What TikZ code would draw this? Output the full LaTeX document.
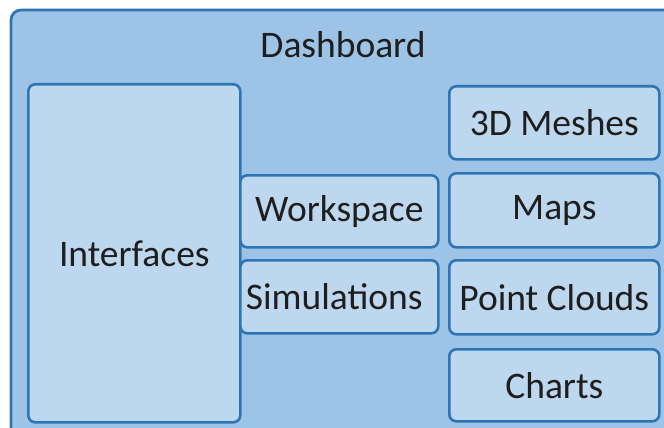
\documentclass[tikz,border=0pt]{standalone}
\usepackage{fontspec}
\setmainfont{Carlito}
\definecolor{outerfill}{HTML}{9DC3E6}
\definecolor{innerfill}{HTML}{BDD7EE}
\definecolor{edgeblue}{HTML}{2E75B6}
\definecolor{txt}{HTML}{1E1E1E}
\begin{document}
\begin{tikzpicture}[x=1pt,y=-1pt,
  lbl/.style={font=\fontsize{37.5}{42}\selectfont, text=txt},
  boxnode/.style={draw=edgeblue, line width=2.6pt, fill=innerfill, rounded corners=7pt,
    inner sep=0pt, anchor=north west, lbl}]
\useasboundingbox (0,0) rectangle (664,428);
\clip (0,0) rectangle (664,428);
\draw[draw=edgeblue, line width=2.8pt, fill=outerfill, rounded corners=10pt] (11,10) rectangle (700,460);
\node[lbl] (dash) at (343,45) {Dashboard};
\node[boxnode, minimum width=212pt, minimum height=338pt] (interfaces) at (27,83) {Interfaces};
\node[boxnode, minimum width=198pt, minimum height=72pt] (workspace) at (239,174) {Workspace};
\node[boxnode, minimum width=198pt, minimum height=73pt] (simulations) at (239,259) {\hspace*{-10pt}Simulations};
\node[boxnode, minimum width=210pt, minimum height=73pt] (meshes) at (448,85) {3D Meshes};
\node[boxnode, minimum width=210pt, minimum height=74pt] (maps) at (448,172) {Maps};
\node[boxnode, minimum width=210pt, minimum height=74pt] (clouds) at (448,259) {Point Clouds};
\node[boxnode, minimum width=210pt, minimum height=72pt] (charts) at (448,348) {Charts};
\end{tikzpicture}
\end{document}
